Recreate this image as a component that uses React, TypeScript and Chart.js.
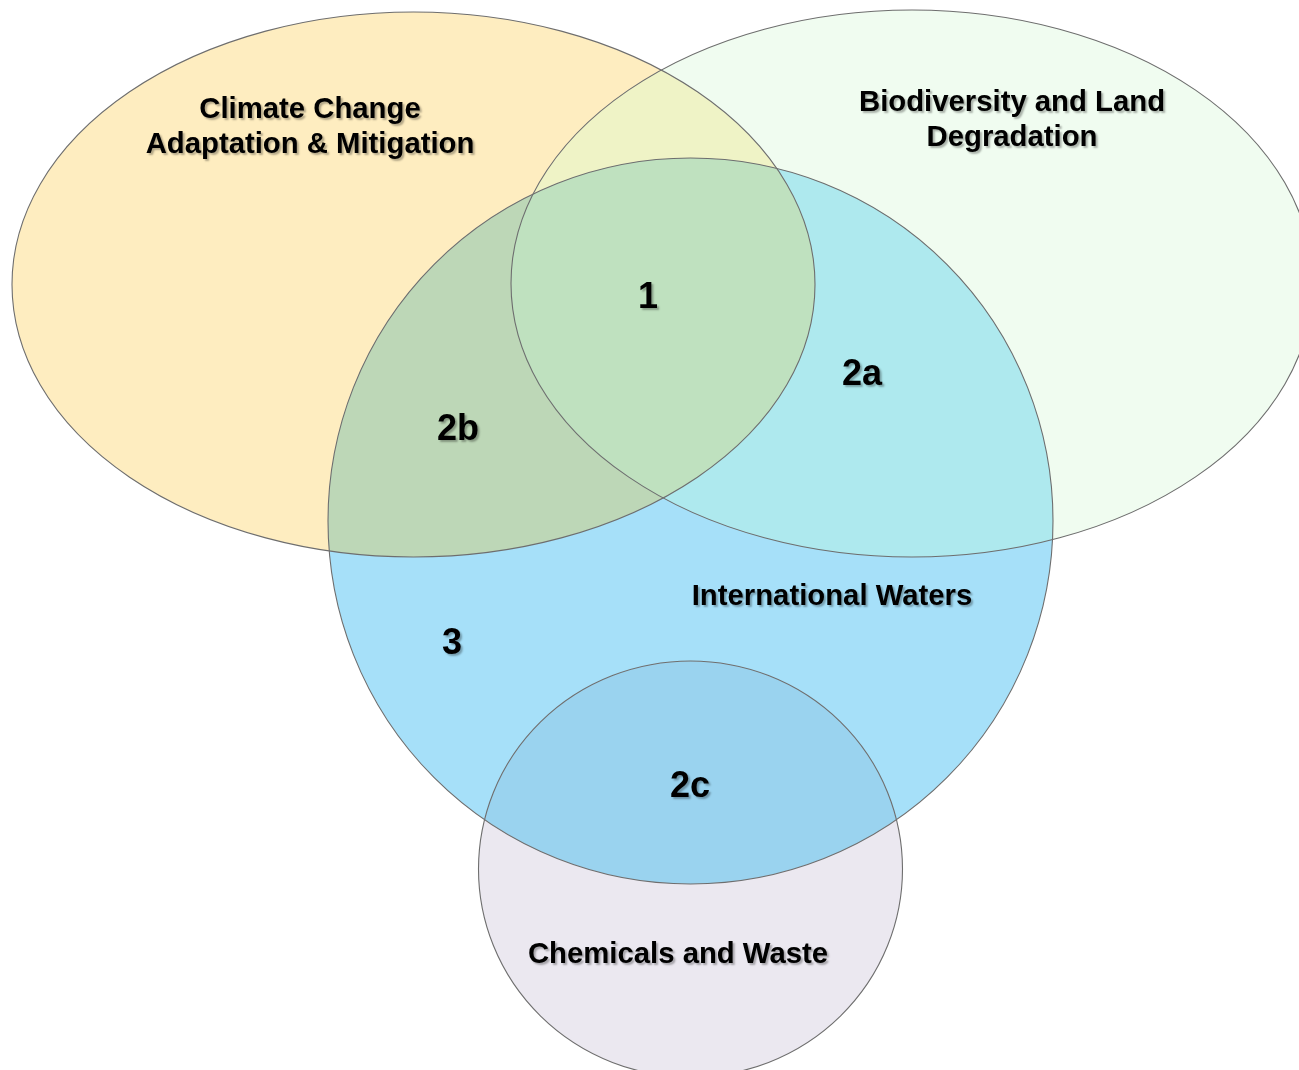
import React, { useEffect, useRef } from "react";
import { Chart, registerables } from "chart.js";

Chart.register(...registerables);

// Sets (ellipses) in chart units (x: 0..1299, y: 0..1070 top-down)
const setNames = [
  "Climate Change Adaptation & Mitigation",
  "Biodiversity and Land Degradation",
  "International Waters",
  "Chemicals and Waste",
];
const setCenterX = [413.5, 912, 690.5, 690.5];
const setCenterY = [284.5, 283.5, 521, 869];
const setRadiusX = [401.5, 401, 362.5, 212];
const setRadiusY = [272.5, 273.5, 363, 208];

// Set captions (lines) and their anchor positions
const setLabelLines = [
  ["Climate Change", "Adaptation & Mitigation"],
  ["Biodiversity and Land", "Degradation"],
  ["International Waters"],
  ["Chemicals and Waste"],
];
const setLabelX = [310, 1012, 832, 678];
const setLabelY = [127, 120, 596.5, 954.5];

// Region numbers
const regionLabels = ["1", "2a", "2b", "3", "2c"];
const regionX = [648, 862, 458, 452, 690];
const regionY = [298, 375, 430, 644, 787];

// Styles
const baseFill = ["#FEEDC0", "#F0FCF0", "#A6E0F9", "#EBE8F0"];
const overlapFill: { sets: number[]; color: string }[] = [
  { sets: [0, 1], color: "#EFF3C6" },
  { sets: [2, 0], color: "#BDD7B7" },
  { sets: [2, 1], color: "#AEE9EE" },
  { sets: [2, 0, 1], color: "#BFE1BF" },
  { sets: [2, 3], color: "#9AD3EF" },
];

const vennPlugin = {
  id: "venn",
  beforeDatasetsDraw(chart: any) {
    const ctx = chart.ctx as CanvasRenderingContext2D;
    const xs = chart.scales.x;
    const ys = chart.scales.y;
    const path = (i: number) => {
      const px = xs.getPixelForValue(setCenterX[i]);
      const py = ys.getPixelForValue(setCenterY[i]);
      const rx = Math.abs(xs.getPixelForValue(setCenterX[i] + setRadiusX[i]) - px);
      const ry = Math.abs(ys.getPixelForValue(setCenterY[i] + setRadiusY[i]) - py);
      ctx.beginPath();
      ctx.ellipse(px, py, rx, ry, 0, 0, Math.PI * 2);
    };
    ctx.save();
    setNames.forEach((_, i) => {
      path(i);
      ctx.fillStyle = baseFill[i];
      ctx.fill();
    });
    overlapFill.forEach((o) => {
      ctx.save();
      for (let k = 0; k < o.sets.length - 1; k++) {
        path(o.sets[k]);
        ctx.clip();
      }
      path(o.sets[o.sets.length - 1]);
      ctx.fillStyle = o.color;
      ctx.fill();
      ctx.restore();
    });
    setNames.forEach((_, i) => {
      path(i);
      ctx.strokeStyle = "#6E6E6E";
      ctx.lineWidth = 1.1;
      ctx.stroke();
    });
    ctx.restore();
  },
  afterDatasetsDraw(chart: any) {
    const ctx = chart.ctx as CanvasRenderingContext2D;
    const xs = chart.scales.x;
    const ys = chart.scales.y;
    ctx.save();
    ctx.textAlign = "center";
    ctx.textBaseline = "middle";
    ctx.fillStyle = "#000";
    ctx.shadowColor = "rgba(0,0,0,0.3)";
    ctx.shadowOffsetX = 2;
    ctx.shadowOffsetY = 2;
    ctx.shadowBlur = 2;
    ctx.font = "bold 29.3px 'Liberation Sans', Arial, sans-serif";
    setLabelLines.forEach((lines, i) => {
      const px = xs.getPixelForValue(setLabelX[i]);
      const py = ys.getPixelForValue(setLabelY[i]);
      const lh = 35;
      lines.forEach((ln, j) => {
        ctx.fillText(ln, px, py + (j - (lines.length - 1) / 2) * lh);
      });
    });
    ctx.font = "bold 36px 'Liberation Sans', Arial, sans-serif";
    regionLabels.forEach((t, i) => {
      ctx.fillText(t, xs.getPixelForValue(regionX[i]), ys.getPixelForValue(regionY[i]));
    });
    ctx.restore();
  },
};

export default function App() {
  const ref = useRef<HTMLCanvasElement | null>(null);
  useEffect(() => {
    if (!ref.current) return;
    const chart = new Chart(ref.current, {
      type: "scatter",
      data: {
        datasets: [
          {
            label: "Regions",
            data: regionLabels.map((_, i) => ({ x: regionX[i], y: regionY[i] })),
            pointRadius: 0,
            pointHoverRadius: 0,
          },
        ],
      },
      options: {
        responsive: false,
        animation: false,
        events: [],
        layout: { padding: 0 },
        plugins: { legend: { display: false }, tooltip: { enabled: false } },
        scales: {
          x: { type: "linear", min: 0, max: 1299, display: false },
          y: { type: "linear", min: 0, max: 1070, reverse: true, display: false },
        },
      },
      plugins: [vennPlugin],
    });
    return () => chart.destroy();
  }, []);
  return (
    <div style={{ position: "absolute", left: 0, top: 0, width: 1299, height: 1070, background: "#fff" }}>
      <canvas ref={ref} width={1299} height={1070} style={{ display: "block" }} />
    </div>
  );
}
